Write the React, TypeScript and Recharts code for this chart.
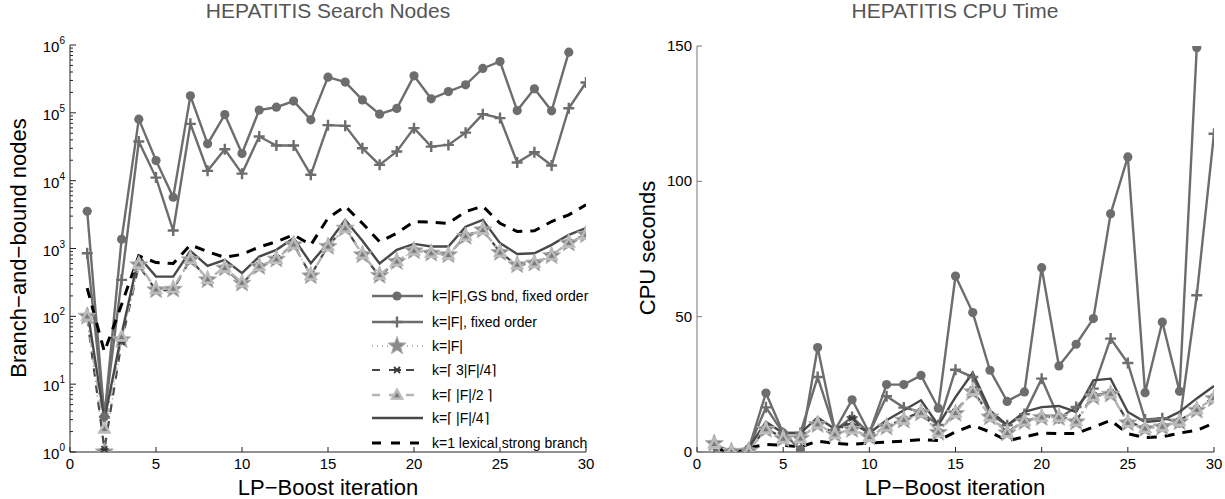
import React from "react";
import { LineChart, Line, XAxis, YAxis, Legend } from "recharts";

// LP-Boost iterations
const iterations = [1, 2, 3, 4, 5, 6, 7, 8, 9, 10, 11, 12, 13, 14, 15, 16, 17, 18, 19, 20, 21, 22, 23, 24, 25, 26, 27, 28, 29, 30];

// search nodes (log axis)
const nodesGs = [3540, 3.3, 1370, 80700, 19800, 5700, 178000, 34900, 94400, 25100, 110000, 121000, 149000, 78800, 336000, 284000, 155000, 95600, 116000, 351000, 161000, 206000, 259000, 451000, 571000, 108000, 226000, 107000, 785000, null];
const nodesFixed = [850, 3.3, 345, 37700, 11100, 1840, 68800, 13950, 29100, 12700, 44700, 33000, 33000, 12200, 65800, 64300, 30100, 17100, 26900, 59500, 31800, 33700, 51000, 95600, 83600, 18500, 26300, 16700, 117000, 280000];
const nodesFull = [100, 1, 45, 573, 245, 250, 680, 344, 512, 308, 540, 695, 1130, 394, 1070, 1990, 805, 400, 640, 920, 850, 805, 1500, 1870, 870, 573, 605, 780, 1200, 1590];
const nodesThreeQ = [95, 1.1, 42, 560, 240, 245, 700, 350, 520, 300, 560, 720, 1150, 400, 1100, 2050, 820, 390, 660, 940, 870, 790, 1550, 1900, 880, 560, 620, 800, 1230, 1620];
const nodesHalf = [100, 2.2, 50, 590, 250, 260, 700, 355, 520, 315, 550, 700, 1150, 400, 1080, 2000, 820, 410, 650, 930, 860, 810, 1520, 1880, 880, 580, 610, 790, 1210, 1600];
const nodesQuarter = [130, 3, 55, 760, 385, 385, 920, 554, 680, 432, 760, 955, 1420, 607, 1200, 2640, 1300, 600, 955, 1170, 1070, 1070, 2100, 2640, 1200, 830, 850, 1130, 1590, 2000];
const nodesLex = [260, 30, 150, 780, 620, 600, 1130, 900, 740, 820, 1050, 1260, 1590, 1130, 2800, 4200, 2350, 1260, 1680, 2500, 2450, 2350, 3500, 4200, 2350, 1780, 1820, 2500, 3140, 4400];

// CPU seconds
const cpuGs = [2.5, 0.3, 1.2, 21.8, 7, 0.9, 38.6, 8, 19.3, 7, 24.9, 24.9, 28.3, 16.2, 65, 51.5, 30.2, 18.7, 22.2, 68.1, 31.8, 39.8, 49.3, 88, 109, 21.9, 48, 22.4, 149.4, null];
const cpuFixed = [2, 0.3, 1.2, 16.5, 7, 7, 27.7, 8, 12.9, 7, 20.6, 16.4, 14.8, 10, 30.4, 27.7, 14, 9.9, 14, 27.1, 12.5, 16.6, 23.4, 41.9, 32.9, 12, 12.5, 11, 57.9, 117.6];
const cpuFull = [3.1, 0.2, 0.3, 8.3, 4.9, 5, 10.1, 6.5, 8.3, 5.5, 9.2, 11.7, 14.4, 7.2, 14.2, 22.2, 12.9, 7, 11.1, 12.7, 12.7, 11.1, 20.3, 21.3, 10.7, 8.6, 9.2, 11.1, 15.4, 19.7];
const cpuThreeQ = [2.9, 0.2, 0.4, 8.8, 5.1, 5.2, 10.6, 6.8, 12.5, 5.7, 9.6, 12.1, 14.9, 7.5, 14.8, 23, 13.3, 7.3, 11.5, 13.1, 13.2, 11.6, 21, 22, 11.1, 9, 9.6, 11.5, 16, 20.3];
const cpuHalf = [3, 0.2, 0.3, 8.5, 5, 5.1, 10.3, 6.6, 8.5, 5.6, 9.4, 11.9, 14.6, 7.3, 14.5, 22.6, 13.1, 7.1, 11.3, 12.9, 12.9, 11.3, 20.6, 21.6, 10.9, 8.8, 9.4, 11.3, 15.7, 20];
const cpuQuarter = [2, 0.3, 1.5, 11.1, 7, 7, 12.7, 8.5, 10.7, 7, 11.7, 15.4, 19.1, 9.9, 20.3, 29.3, 15.4, 9.9, 14.8, 16.6, 17, 14.8, 26.5, 27.1, 14.8, 11.1, 11.7, 14.8, 19.8, 24.4];
const cpuLex = [1.2, 0.2, 1.5, 2.8, 2.5, 1.9, 4, 3.2, 2.8, 3.3, 3.7, 4, 4.6, 4.2, 7.4, 9.9, 7.4, 4.1, 5.6, 7, 6.8, 6.8, 9.2, 11.7, 6.8, 5.3, 5.6, 7, 8, 10.7];

const xTicks = [0, 5, 10, 15, 20, 25, 30];
const nodeMajorTicks = [1, 10, 100, 1000, 10000, 100000, 1000000];
const cpuTicks = [0, 50, 100, 150];

const legendLabels = [
  "k=|F|,GS bnd, fixed order",
  "k=|F|, fixed order",
  "k=|F|",
  "k=\u2308 3|F|/4\u2309",
  "k=\u2308 |F|/2 \u2309",
  "k=\u2308 |F|/4\u2309",
  "k=1 lexical strong branch",
];

const nodeTicks: number[] = [];
nodeMajorTicks.forEach((t, i) => {
  nodeTicks.push(t);
  if (i < nodeMajorTicks.length - 1) for (let m = 2; m <= 9; m++) nodeTicks.push(t * m);
});

const nodeRows = iterations.map((it, i) => ({
  it, gs: nodesGs[i], fixed: nodesFixed[i], full: nodesFull[i], threeQ: nodesThreeQ[i],
  half: nodesHalf[i], quarter: nodesQuarter[i], lex: nodesLex[i],
}));
const cpuRows = iterations.map((it, i) => ({
  it, gs: cpuGs[i], fixed: cpuFixed[i], full: cpuFull[i], threeQ: cpuThreeQ[i],
  half: cpuHalf[i], quarter: cpuQuarter[i], lex: cpuLex[i],
}));

const FONT = '"Liberation Sans", Arial, sans-serif';
const GRAY = "#6d6d6d";
const DARK = "#484848";

// ---------- markers ----------
const CircleMark = ({ cx, cy }: any) => <circle cx={cx} cy={cy} r={4.6} fill={GRAY} />;
const PlusMark = ({ cx, cy }: any) => (
  <path d={`M${cx - 5.5},${cy}H${cx + 5.5}M${cx},${cy - 5.5}V${cy + 5.5}`} stroke={GRAY} strokeWidth={2.4} />
);
const starPoints = (cx: number, cy: number, ro: number, ri: number) => {
  const pts: string[] = [];
  for (let k = 0; k < 10; k++) {
    const r = k % 2 === 0 ? ro : ri;
    const a = -Math.PI / 2 + (k * Math.PI) / 5;
    pts.push(`${cx + r * Math.cos(a)},${cy + r * Math.sin(a)}`);
  }
  return pts.join(" ");
};
const StarMark = ({ cx, cy }: any) => (
  <polygon points={starPoints(cx, cy, 9.5, 4)} fill="#8a8a8a" stroke="#b4b4b4" strokeWidth={1} />
);
const AsterMark = ({ cx, cy }: any) => (
  <path d={`M${cx - 3},${cy - 3}L${cx + 3},${cy + 3}M${cx - 3},${cy + 3}L${cx + 3},${cy - 3}M${cx - 4},${cy}H${cx + 4}`} stroke="#3a3a3a" strokeWidth={1.8} />
);
const TriMark = ({ cx, cy }: any) => (
  <g>
    <polygon points={`${cx},${cy - 7} ${cx - 6.5},${cy + 4.5} ${cx + 6.5},${cy + 4.5}`} fill="#b8b8b8" stroke="#c4c4c4" strokeWidth={1} />
    <polygon points={`${cx},${cy - 2.5} ${cx - 2.8},${cy + 2.2} ${cx + 2.8},${cy + 2.2}`} fill="#7a7a7a" />
  </g>
);

const dotOf = (Mark: any) => (p: any) => {
  const { cx, cy, index } = p;
  if (typeof cx !== "number" || typeof cy !== "number" || isNaN(cy) || p.value == null)
    return <g key={`d${index}`} />;
  return <Mark key={`d${index}`} cx={cx} cy={cy} />;
};

// ---------- ticks ----------
const XTick = ({ x, y, payload }: any) => (
  <g>
    <line x1={x} x2={x} y1={y} y2={y - 5} stroke="#222" />
    <text x={x} y={y + 17} textAnchor="middle" fontSize={15} fontFamily={FONT} fill="#000">{payload.value}</text>
  </g>
);
const LogTick = ({ x, y, payload }: any) => {
  const v = payload.value;
  const exp = Math.round(Math.log10(v));
  const major = Math.abs(v - Math.pow(10, exp)) < 1e-6 * v;
  return (
    <g>
      <line x1={x} x2={x + (major ? 6 : 3)} y1={y} y2={y} stroke="#222" />
      {major && (
        <text x={x - 5} y={y + 7} textAnchor="end" fontSize={15} fontFamily={FONT} fill="#000">
          10<tspan dy={-8} fontSize={10}>{exp}</tspan>
        </text>
      )}
    </g>
  );
};
const CpuTick = ({ x, y, payload }: any) => (
  <g>
    <line x1={x} x2={x + 5} y1={y} y2={y} stroke="#777" />
    <text x={x - 5} y={y + 5} textAnchor="end" fontSize={15} fontFamily={FONT} fill="#000">{payload.value}</text>
  </g>
);

// ---------- legend ----------
const LegendBox = () => {
  const rowsY = [16, 42, 66, 90, 115, 138, 163];
  const x1 = 4, x2 = 55, xm = 29;
  return (
    <svg width={232} height={180} style={{ overflow: "visible" }}>
      <line x1={x1} x2={x2} y1={rowsY[0]} y2={rowsY[0]} stroke={GRAY} strokeWidth={2.4} />
      <CircleMark cx={xm} cy={rowsY[0]} />
      <line x1={x1} x2={x2} y1={rowsY[1]} y2={rowsY[1]} stroke={GRAY} strokeWidth={2.4} />
      <PlusMark cx={xm} cy={rowsY[1]} />
      <line x1={x1} x2={x2} y1={rowsY[2]} y2={rowsY[2]} stroke="#999" strokeWidth={1.5} strokeDasharray="1 4" />
      <StarMark cx={xm} cy={rowsY[2]} />
      <line x1={x1} x2={x2} y1={rowsY[3]} y2={rowsY[3]} stroke={DARK} strokeWidth={2.2} strokeDasharray="8 9" />
      <AsterMark cx={xm} cy={rowsY[3]} />
      <line x1={x1} x2={x2} y1={rowsY[4]} y2={rowsY[4]} stroke="#b4b4b4" strokeWidth={2.4} strokeDasharray="8 9" />
      <TriMark cx={xm} cy={rowsY[4]} />
      <line x1={x1} x2={x2} y1={rowsY[5]} y2={rowsY[5]} stroke={DARK} strokeWidth={2.4} />
      <line x1={x1} x2={x2} y1={rowsY[6]} y2={rowsY[6]} stroke="#000" strokeWidth={3} strokeDasharray="9 10" />
      {legendLabels.map((t, i) => (
        <text key={t} x={64} y={rowsY[i] + 5} fontSize={14} fontFamily={FONT} fill="#000">{t}</text>
      ))}
    </svg>
  );
};

const seriesLines = () => [
  <Line key="gs" dataKey="gs" stroke={GRAY} strokeWidth={2.4} dot={dotOf(CircleMark)} isAnimationActive={false} />,
  <Line key="fixed" dataKey="fixed" stroke={GRAY} strokeWidth={2.4} dot={dotOf(PlusMark)} isAnimationActive={false} />,
  <Line key="full" dataKey="full" stroke="#999" strokeWidth={1.5} strokeDasharray="1 4" dot={dotOf(StarMark)} isAnimationActive={false} />,
  <Line key="threeQ" dataKey="threeQ" stroke={DARK} strokeWidth={2.2} strokeDasharray="8 9" dot={dotOf(AsterMark)} isAnimationActive={false} />,
  <Line key="half" dataKey="half" stroke="#b4b4b4" strokeWidth={2.4} strokeDasharray="9 5 2 5" dot={dotOf(TriMark)} isAnimationActive={false} />,
  <Line key="quarter" dataKey="quarter" stroke={DARK} strokeWidth={2.4} dot={false} isAnimationActive={false} />,
  <Line key="lex" dataKey="lex" stroke="#000" strokeWidth={3} strokeDasharray="10 8" dot={false} isAnimationActive={false} />,
];

const textStyle = (extra: React.CSSProperties): React.CSSProperties => ({
  position: "absolute", fontFamily: FONT, whiteSpace: "nowrap", lineHeight: 1, ...extra,
});

export default function App() {
  return (
    <div style={{ position: "absolute", left: 0, top: 0, width: 1225, height: 499, background: "#fff", overflow: "hidden" }}>
      <div style={textStyle({ left: 328, top: 0, fontSize: 21, color: "#555", transform: "translateX(-50%)" })}>HEPATITIS Search Nodes</div>
      <div style={textStyle({ left: 955, top: 0, fontSize: 21, color: "#555", transform: "translateX(-50%)" })}>HEPATITIS CPU Time</div>
      <div style={textStyle({ left: 328, top: 477, fontSize: 22, color: "#000", transform: "translateX(-50%)" })}>LP{"\u2212"}Boost iteration</div>
      <div style={textStyle({ left: 955, top: 477, fontSize: 22, color: "#000", transform: "translateX(-50%)" })}>LP{"\u2212"}Boost iteration</div>
      <div style={textStyle({ left: 19, top: 248, fontSize: 22, color: "#000", transform: "translate(-50%,-50%) rotate(-90deg)" })}>Branch{"\u2212"}and{"\u2212"}bound nodes</div>
      <div style={textStyle({ left: 648, top: 248, fontSize: 22, color: "#000", transform: "translate(-50%,-50%) rotate(-90deg)" })}>CPU seconds</div>

      <div style={{ position: "absolute", left: 0, top: 0 }}>
        <LineChart width={600} height={499} data={nodeRows} margin={{ top: 45, right: 14, bottom: 17, left: 0 }}>
          <XAxis dataKey="it" type="number" domain={[0, 30]} ticks={xTicks} allowDataOverflow height={30}
            tickSize={0} tickMargin={0} tick={<XTick />} tickLine={false} axisLine={{ stroke: "#222" }} interval={0} />
          <YAxis type="number" scale="log" domain={[1, 1000000]} ticks={nodeTicks} allowDataOverflow width={70}
            tickSize={0} tickMargin={0} tick={<LogTick />} tickLine={false} axisLine={{ stroke: "#222" }} interval={0} />
          {seriesLines()}
          <Legend verticalAlign="middle" align="center" layout="horizontal" width={232} height={180}
            wrapperStyle={{ position: "absolute", left: 368, top: 280, width: 232, height: 180 }}
            content={() => <LegendBox />} />
        </LineChart>
      </div>

      <div style={{ position: "absolute", left: 620, top: 0 }}>
        <LineChart width={605} height={499} data={cpuRows} margin={{ top: 46, right: 11, bottom: 17, left: 0 }}>
          <XAxis dataKey="it" type="number" domain={[0, 30]} ticks={xTicks} allowDataOverflow height={30}
            tickSize={0} tickMargin={0} tick={<XTick />} tickLine={false} axisLine={{ stroke: "#222" }} interval={0} />
          <YAxis type="number" domain={[0, 150]} ticks={cpuTicks} allowDataOverflow width={77}
            tickSize={0} tickMargin={0} tick={<CpuTick />} tickLine={false} axisLine={{ stroke: "#777" }} interval={0} />
          {seriesLines()}
        </LineChart>
      </div>
    </div>
  );
}
